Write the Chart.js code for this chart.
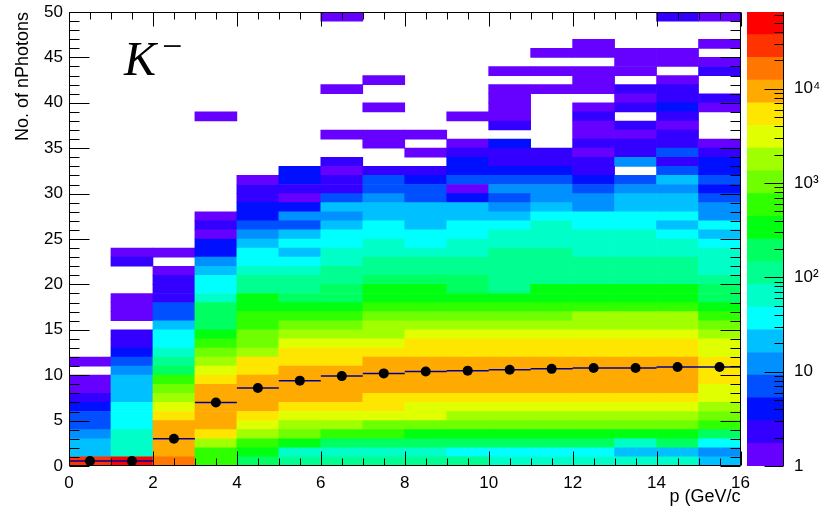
<!DOCTYPE html>
<html>
<head>
<meta charset="utf-8">
<script src="https://cdn.jsdelivr.net/npm/chart.js@4.4.1/dist/chart.umd.min.js"></script>
<style>
  html, body { margin: 0; padding: 0; background: #fff; }
  #wrap { position: relative; width: 829px; height: 508px; }
  #main { position: absolute; left: 0; top: 0; }
  #pal { position: absolute; left: 740px; top: 0; }
</style>
</head>
<body>
<div id="wrap">
  <canvas id="main" width="829" height="508"></canvas>
  <canvas id="pal" width="89" height="508"></canvas>
</div>
<script>
// K- : nPhotons vs momentum, counts per (p, nPhotons) bin, bins of 1 GeV/c x 1 photon
const pCentres = [0.5, 1.5, 2.5, 3.5, 4.5, 5.5, 6.5, 7.5, 8.5, 9.5, 10.5, 11.5, 12.5, 13.5, 14.5, 15.5];

// counts for nPhotons = 0,1,2,... in each p bin (missing = empty)
const countsP0  = [33000, 22, 20, 12, 7, 6, 4, 2, 1, 1, 0, 1];
const countsP1  = [52000, 64, 70, 61, 40, 36, 34, 22, 19, 20, 12, 7, 4, 2, 3, 0, 1, 1, 1, 0, 0, 0, 2, 1];
const countsP2  = [18500, 10600, 11200, 10100, 9300, 5800, 3300, 1900, 1080, 630, 210, 120, 68, 40, 36, 22, 7, 6, 2, 2, 3, 1, 0, 1];
const countsP3  = [610, 590, 1850, 5600, 9100, 10500, 11400, 10800, 9600, 6000, 3400, 1900, 1120, 640, 360, 210, 195, 180, 70, 39, 35, 20, 12, 4, 5, 1, 2, 1, 0, 0, 0, 0, 0, 0, 0, 0, 0, 0, 1];
const countsP4  = [200, 350, 620, 1880, 3300, 6100, 10200, 11500, 11100, 9500, 6200, 5700, 1950, 1100, 1050, 640, 600, 370, 340, 118, 112, 68, 40, 36, 22, 12, 7, 4, 5, 2, 2, 1];
const countsP5  = [120, 64, 360, 1060, 1900, 3400, 6000, 9800, 11300, 10600, 9200, 6100, 5500, 3250, 1850, 1080, 620, 340, 205, 118, 110, 62, 39, 22, 37, 20, 7, 12, 4, 1, 2, 4, 5];
const countsP6  = [125, 68, 210, 640, 1950, 3500, 6200, 10100, 11500, 11700, 10400, 6300, 5600, 3400, 1900, 1100, 630, 360, 210, 195, 118, 110, 66, 62, 38, 36, 21, 12, 20, 7, 2, 2, 1, 2, 0, 0, 1, 0, 0, 0, 0, 1, 0, 0, 0, 0, 0, 0, 0, 1];
const countsP7  = [124, 70, 205, 650, 1100, 3300, 6100, 5800, 10500, 11600, 11500, 9400, 6000, 3450, 1950, 1880, 1080, 620, 360, 345, 200, 115, 112, 66, 64, 38, 37, 21, 20, 12, 7, 6, 2, 0, 0, 1, 1, 0, 0, 1, 0, 0, 1];
const countsP8  = [122, 67, 200, 360, 1100, 3350, 3200, 6000, 10200, 11500, 11700, 9600, 6100, 5700, 3300, 1900, 1090, 630, 355, 340, 205, 116, 110, 64, 38, 36, 21, 20, 22, 7, 6, 4, 2, 0, 1, 0, 1];
const countsP9  = [118, 37, 198, 350, 1070, 1900, 3380, 6000, 10400, 11600, 11800, 9800, 6200, 5800, 3400, 1950, 1100, 640, 360, 205, 198, 117, 112, 66, 62, 38, 37, 21, 20, 4, 1, 7, 4, 5, 2, 1, 0, 0, 1];
const countsP10 = [66, 38, 200, 350, 1050, 1880, 3350, 6000, 10000, 11400, 11500, 9900, 6300, 5600, 3350, 1900, 1080, 630, 350, 118, 115, 112, 110, 100, 68, 64, 38, 21, 12, 7, 13, 7, 4, 2, 2, 4, 0, 2, 1, 1, 1, 1, 0, 1];
const countsP11 = [65, 39, 205, 345, 1060, 1900, 3400, 6100, 10100, 11500, 11700, 10100, 6300, 5700, 3380, 1920, 1090, 625, 355, 340, 120, 115, 110, 105, 66, 64, 62, 37, 21, 12, 11, 7, 4, 2, 2, 0, 0, 0, 0, 0, 0, 1, 0, 1, 0, 1];
const countsP12 = [64, 37, 200, 348, 1070, 1920, 3400, 6150, 10200, 11600, 11800, 10200, 6400, 5800, 3400, 1950, 1850, 630, 360, 345, 118, 112, 108, 68, 66, 62, 38, 37, 12, 11, 7, 4, 2, 2, 1, 2, 1, 1, 2, 1, 0, 1, 1, 1, 0, 1, 1];
const countsP13 = [66, 22, 64, 350, 1080, 1930, 3420, 6200, 10300, 11700, 11900, 10300, 6500, 5900, 3420, 1960, 1880, 640, 362, 348, 120, 114, 108, 70, 66, 64, 38, 36, 21, 20, 12, 7, 0, 12, 2, 2, 1, 2, 0, 2, 1, 2, 0, 1, 1, 1];
const countsP14 = [64, 21, 198, 345, 1060, 1910, 3380, 6150, 10200, 11600, 11800, 10200, 6450, 5850, 3400, 1940, 1860, 635, 358, 344, 118, 112, 106, 68, 64, 38, 21, 37, 22, 20, 12, 21, 7, 2, 7, 2, 2, 1, 2, 4, 2, 2, 1, 0, 1, 1, 0, 0, 0, 2];
const countsP15 = [22, 12, 38, 205, 630, 1080, 1900, 3300, 3400, 5800, 6000, 5700, 3350, 3250, 1880, 1060, 620, 350, 200, 195, 112, 66, 64, 62, 38, 21, 37, 12, 11, 7, 4, 7, 4, 5, 2, 1, 0, 0, 0, 1, 2, 0, 0, 2, 1, 0, 1, 0, 0, 1];

const countsByPBin = [countsP0, countsP1, countsP2, countsP3, countsP4, countsP5, countsP6, countsP7,
  countsP8, countsP9, countsP10, countsP11, countsP12, countsP13, countsP14, countsP15];

// profile: mean nPhotons per p bin
const profileMean = [0.55, 0.55, 3.0, 7.0, 8.6, 9.4, 9.9, 10.2, 10.4, 10.5, 10.6, 10.7, 10.8, 10.8, 10.9, 10.9];

const nPhotonBins = 50;
const zMin = 1, zMax = 65000;
const zTickValues = [1, 10, 100, 1000, 10000];
const zTickLabels = ['1', '10', '10\u00B2', '10\u00B3', '10\u2074'];

// ROOT style rainbow palette, 20 contours (low -> high)
const palette = ['#6600ff', '#3300ff', '#0010ff', '#0050ff', '#0090ff', '#00c0ff', '#00ffff', '#00ffc8',
  '#00ff90', '#00ff60', '#00ff10', '#30ff00', '#70ff00', '#a0ff00', '#e0ff00', '#ffe600',
  '#ffaa00', '#ff7700', '#ff3300', '#ff0000'];

const FONT = '"Liberation Sans", Arial, Helvetica, sans-serif';

function zColour(v) {
  const f = Math.log10(v / zMin) / Math.log10(zMax / zMin);
  const k = Math.max(0, Math.min(palette.length - 1, Math.floor(f * palette.length)));
  return palette[k];
}

// one bar dataset per nPhotons row
const heatRows = [];
for (let j = 0; j < nPhotonBins; j++) {
  const cells = [];
  countsByPBin.forEach((col, i) => {
    const v = col[j] || 0;
    if (v > 0) cells.push({ x: pCentres[i], y: [j, j + 1], v });
  });
  heatRows.push({
    type: 'bar', data: cells, order: 2, grouped: false,
    barPercentage: 1, categoryPercentage: 1, borderWidth: 0,
    backgroundColor: c => zColour(c.raw ? c.raw.v : 1)
  });
}

// profile x-error segments (bin width) and markers
const stepPts = [];
profileMean.forEach((m, i) => {
  stepPts.push({ x: pCentres[i] - 0.5, y: m }, { x: pCentres[i] + 0.5, y: m }, { x: pCentres[i] + 0.5, y: null });
});

const rootFrame = {
  id: 'rootFrame',
  afterDraw(chart) {
    const { ctx, chartArea: a, scales: { x, y } } = chart;
    ctx.save();
    ctx.strokeStyle = '#000';
    ctx.lineWidth = 1;
    const L = Math.round(a.left) + 0.5, R = Math.round(a.right) - 0.5;
    const T = Math.round(a.top) + 0.5, B = Math.round(a.bottom) - 0.5;
    ctx.beginPath();
    ctx.rect(L, T, R - L, B - T);
    for (let v = x.min; v <= x.max + 1e-6; v += 0.5) {
      const px = Math.round(x.getPixelForValue(v)) + 0.5;
      const len = Math.abs(v % 2) < 1e-6 ? 14 : 7;
      ctx.moveTo(px, B); ctx.lineTo(px, B - len);
      ctx.moveTo(px, T); ctx.lineTo(px, T + len);
    }
    for (let v = y.min; v <= y.max + 1e-6; v += 1) {
      const py = Math.round(y.getPixelForValue(v)) + 0.5;
      const len = v % 5 === 0 ? 20 : 10;
      ctx.moveTo(L, py); ctx.lineTo(L + len, py);
      ctx.moveTo(R, py); ctx.lineTo(R - len, py);
    }
    ctx.stroke();

    // particle label
    ctx.fillStyle = '#000';
    ctx.textBaseline = 'alphabetic';
    ctx.font = 'italic 48px "Liberation Serif", "Times New Roman", serif';
    ctx.fillText('K', a.left + 55, a.top + 63);
    ctx.font = '36px "Liberation Serif", "Times New Roman", serif';
    ctx.fillText('\u2212', a.left + 93, a.top + 46);
    ctx.restore();
  }
};

new Chart(document.getElementById('main'), {
  type: 'bar',
  data: {
    datasets: [
      { type: 'scatter', data: profileMean.map((m, i) => ({ x: pCentres[i], y: m })), order: 0,
        pointRadius: 5, pointBackgroundColor: '#000', pointBorderWidth: 0, showLine: false },
      { type: 'line', data: stepPts, order: 1, borderColor: '#000099', borderWidth: 1.5,
        pointRadius: 0, spanGaps: false, fill: false },
      ...heatRows
    ]
  },
  options: {
    responsive: false,
    animation: false,
    layout: { padding: { top: 12, right: 88.5, left: 0, bottom: 0 } },
    plugins: { legend: { display: false }, tooltip: { enabled: false } },
    scales: {
      x: {
        type: 'linear', min: 0, max: 16, offset: false,
        grid: { drawOnChartArea: false, drawTicks: true, tickLength: 7, tickColor: 'rgba(0,0,0,0)' },
        border: { display: false },
        ticks: { stepSize: 2, padding: 0, color: '#000', maxRotation: 0, font: { family: FONT, size: 17 } },
        title: { display: true, text: 'p (GeV/c', align: 'end', color: '#000',
          font: { family: FONT, size: 18 }, padding: { top: 0, bottom: 0 } },
        afterFit: s => { s.height = 42; }
      },
      y: {
        type: 'linear', min: 0, max: nPhotonBins, stacked: false,
        grid: { drawOnChartArea: false, drawTicks: true, tickLength: 6, tickColor: 'rgba(0,0,0,0)' },
        border: { display: false },
        ticks: { stepSize: 5, padding: 0, color: '#000', font: { family: FONT, size: 17 } },
        title: { display: true, text: 'No. of nPhotons', align: 'end', color: '#000',
          font: { family: FONT, size: 18 }, padding: { top: 12, bottom: 0 } },
        afterFit: s => { s.width = 69; }
      }
    }
  },
  plugins: [rootFrame]
});

// colour palette axis
const zLevels = [];
for (let k = 0; k <= palette.length; k++) zLevels.push(zMin * Math.pow(zMax / zMin, k / palette.length));

const paletteTicks = {
  id: 'paletteTicks',
  afterDraw(chart) {
    const { ctx, chartArea: a, scales: { y } } = chart;
    const R = Math.round(a.right) - 0.5;
    ctx.save();
    ctx.strokeStyle = '#000';
    ctx.lineWidth = 1;
    ctx.beginPath();
    ctx.moveTo(R, a.top); ctx.lineTo(R, a.bottom);
    for (let d = 1; d <= zMax; d *= 10) {
      for (let m = 1; m <= 9; m++) {
        const v = d * m;
        if (v > zMax) break;
        const py = Math.round(y.getPixelForValue(v)) + 0.5;
        const len = m === 1 ? 19 : 9;
        ctx.moveTo(R, py); ctx.lineTo(R - len, py);
      }
    }
    ctx.stroke();
    ctx.restore();
  }
};

new Chart(document.getElementById('pal'), {
  type: 'bar',
  data: {
    labels: [''],
    datasets: palette.map((col, k) => ({
      data: [[zLevels[k], zLevels[k + 1]]], backgroundColor: col, grouped: false,
      barPercentage: 1, categoryPercentage: 1, borderWidth: 0
    }))
  },
  options: {
    responsive: false,
    animation: false,
    layout: { padding: { top: 12, bottom: 42, left: 7, right: 0 } },
    plugins: { legend: { display: false }, tooltip: { enabled: false } },
    scales: {
      x: { display: false },
      y: {
        type: 'logarithmic', position: 'right', min: zMin, max: zMax,
        grid: { drawOnChartArea: false, drawTicks: true, tickLength: 10, tickColor: 'rgba(0,0,0,0)' },
        border: { display: false },
        afterBuildTicks: s => { s.ticks = zTickValues.map(v => ({ value: v })); },
        ticks: {
          padding: 0, color: '#000', font: { family: FONT, size: 17 },
          callback: v => zTickLabels[zTickValues.indexOf(v)]
        },
        afterFit: s => { s.width = 45; }
      }
    }
  },
  plugins: [paletteTicks]
});
</script>
</body>
</html>
